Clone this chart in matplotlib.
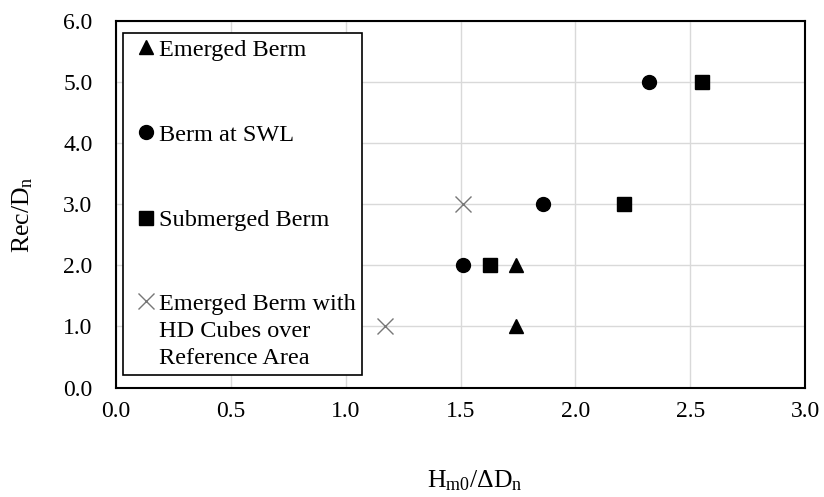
import matplotlib
matplotlib.use("Agg")
import matplotlib.pyplot as plt
from matplotlib.legend_handler import HandlerLine2D

plt.rcParams["font.family"] = ["Liberation Serif", "DejaVu Serif"]
plt.rcParams["mathtext.fontset"] = "custom"
plt.rcParams["mathtext.rm"] = "Liberation Serif"
plt.rcParams["mathtext.it"] = "Liberation Serif:italic"

# Hm0/ΔDn against Rec/Dn for each berm layout
emerged_x = [1.74, 1.74]
emerged_y = [1.0, 2.0]
swl_x = [1.51, 1.86, 2.32]
swl_y = [2.0, 3.0, 5.0]
submerged_x = [1.63, 2.21, 2.55]
submerged_y = [2.0, 3.0, 5.0]
hd_x = [1.17, 1.51]
hd_y = [1.0, 3.0]

labels = ["Emerged Berm", "Berm at SWL", "Submerged Berm",
          "Emerged Berm with\nHD Cubes over\nReference Area"]
x_ticks = [0.0, 0.5, 1.0, 1.5, 2.0, 2.5, 3.0]
y_ticks = [0.0, 1.0, 2.0, 3.0, 4.0, 5.0, 6.0]


class RaisedHandler(HandlerLine2D):
    """Puts the legend marker level with the first line of a multi-line label."""

    def __init__(self, lift, **kw):
        super().__init__(**kw)
        self.lift = lift

    def create_artists(self, legend, orig_handle, xdescent, ydescent,
                       width, height, fontsize, trans):
        artists = super().create_artists(legend, orig_handle, xdescent, ydescent,
                                         width, height, fontsize, trans)
        for a in artists:
            a.set_ydata([y + self.lift for y in a.get_ydata()])
        return artists


fig = plt.figure(figsize=(8.24, 4.97), dpi=100)
ax = fig.add_axes([116 / 824, 1 - 387.5 / 497, 689 / 824, 366.5 / 497])

ax.plot(emerged_x, emerged_y, "^", color="black", markersize=10, label=labels[0])
ax.plot(swl_x, swl_y, "o", color="black", markersize=10, label=labels[1])
ax.plot(submerged_x, submerged_y, "s", color="black", markersize=10, label=labels[2])
hd_line, = ax.plot(hd_x, hd_y, "x", color="#777777", markersize=12,
                   markeredgewidth=1.0, label=labels[3])

ax.set_xlim(0, 3)
ax.set_ylim(0, 6)
ax.set_xticks(x_ticks)
ax.set_yticks(y_ticks)
ax.set_xticklabels([f"{v:.1f}" for v in x_ticks])
ax.set_yticklabels([f"{v:.1f}" for v in y_ticks])
ax.tick_params(axis="both", length=0, labelsize=17)
ax.tick_params(axis="x", pad=10)
ax.tick_params(axis="y", pad=17)

ax.grid(True, color="#d9d9d9", linewidth=1.0)
ax.set_axisbelow(True)
for s in ax.spines.values():
    s.set_color("black")
    s.set_linewidth(1.5)

ax.set_xlabel(r"H$_\mathrm{m0}$/ΔD$_\mathrm{n}$", fontsize=18.5)
ax.xaxis.set_label_coords(0.521, -0.222)
ax.set_ylabel(r"Rec/D$_\mathrm{n}$", fontsize=18.5)
ax.yaxis.set_label_coords(-0.118, 0.4707)

fs = 17.5
leg = ax.legend(loc="upper left", bbox_to_anchor=(0.0102, 0.0416, 0.3465, 0.9266),
                mode="expand", borderaxespad=0, borderpad=0.25,
                handlelength=1.43, handletextpad=-0.22, labelspacing=2.6,
                fancybox=False, edgecolor="black", framealpha=1, fontsize=fs,
                numpoints=1,
                handler_map={hd_line: RaisedHandler(22)})
leg.get_frame().set_linewidth(1.2)
leg.get_texts()[3].set_linespacing(1.37)

fig.savefig("out.png", dpi=100)
